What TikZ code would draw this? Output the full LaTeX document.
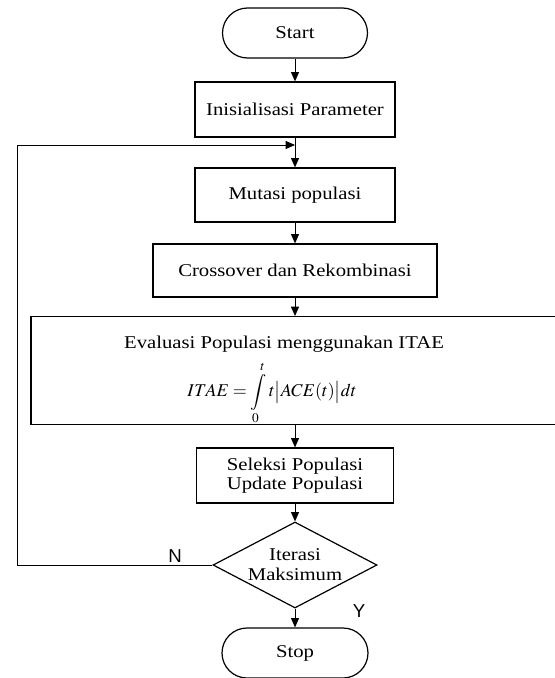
\documentclass[tikz,border=0pt]{standalone}
\usepackage{mathptmx}
\usepackage{fontspec}
\setmainfont{Liberation Serif}[FakeStretch=1.15]
\newfontfamily\yesno{Liberation Sans}
\usetikzlibrary{shapes.geometric,shapes.misc,arrows.meta}

\begin{document}
\begin{tikzpicture}[x=0.75pt,y=0.75pt,yscale=-1,xscale=1,
  box/.style={draw,line width=0.9pt,rectangle,inner sep=0pt,align=center,font=\fontsize{13.5}{15}\selectfont},
  term/.style={box,rounded rectangle},
  decide/.style={box,diamond,aspect=1.9,minimum width=123pt,minimum height=64.5pt},
  flow/.style={line width=0.75pt,-{Triangle[length=7pt,width=6pt]}},
  yn/.style={font=\yesno\fontsize{14}{16}\selectfont}]
\useasboundingbox (0,0) rectangle (555,678);

%Shape: Terminal
\node[term,minimum width=108.75pt,minimum height=37.5pt] (start) at (295,33) {Start};
%Shape: Rectangle
\node[box,minimum width=150pt,minimum height=41.25pt] (init) at (295,109.5) {Inisialisasi Parameter};
\node[box,minimum width=150pt,minimum height=40.5pt] (mut) at (295,195) {Mutasi populasi};
\node[box,minimum width=213pt,minimum height=39.75pt] (cross) at (295,270.5) {Crossover dan Rekombinasi};
\node[box,minimum width=397.5pt,minimum height=72.75pt] (eval) at (296,370.5)
  {\hspace*{-18pt}\rule{0pt}{24pt}Evaluasi Populasi menggunakan ITAE\\[6pt]
   \hspace*{-36pt}$\displaystyle ITAE=\int\limits_0^t t\bigl|ACE(t)\bigr|dt$};
\node[box,minimum width=147.75pt,minimum height=41.25pt,font=\fontsize{13.5}{14.5}\selectfont] (sel) at (295,475.5) {Seleksi Populasi\\Update Populasi};
%Shape: Diamond
\node[decide] (iter) at (295,565) {Iterasi\\Maksimum};
\node[term,minimum width=109.5pt,minimum height=37.5pt] (stop) at (295,653) {Stop};

\coordinate (back) at (17,145);
\coordinate (join) at (295,145);

%Straight Lines
\draw[flow] (start.south) -- (init.north);
\draw[flow] (init.south) -- (mut.north);
\draw[flow] (mut.south) -- (cross.north);
\draw[flow] (cross.south) -- (cross.south |- eval.north);
\draw[flow] (sel.north |- eval.south) -- (sel.north);
\draw[flow] (sel.south) -- (iter.north);
\draw[flow] (iter.south) -- (stop.north);
\draw[flow] (iter.west) -| (back) -- (join);

% Text Node
\node[yn] (no) at (175,556) {N};
\node[yn] (yes) at (359,611) {Y};
\end{tikzpicture}
\end{document}
